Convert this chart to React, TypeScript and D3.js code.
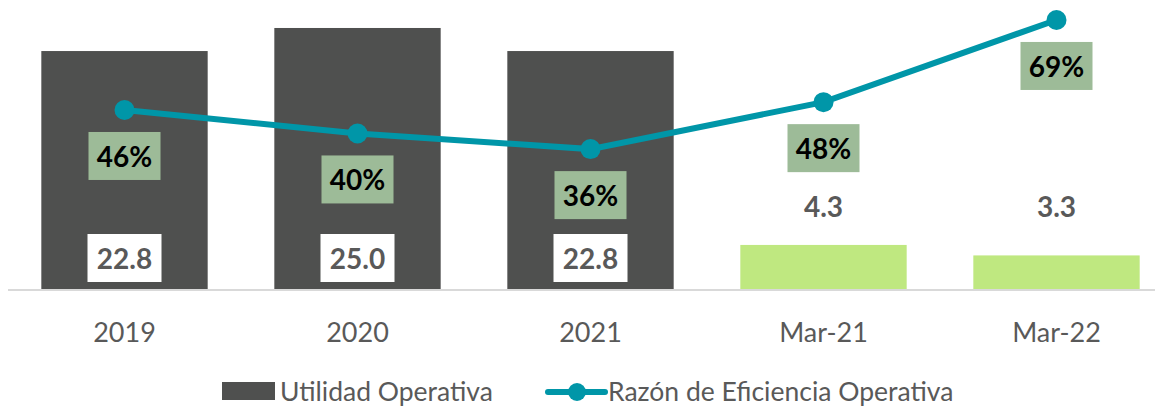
import React from "react";
import * as d3 from "d3";

const categories = ["2019", "2020", "2021", "Mar-21", "Mar-22"];
const utilidad = [22.8, 25.0, 22.8, 4.3, 3.3];
const razon = [46, 40, 36, 48, 69];
const barColors = ["#4f504f", "#4f504f", "#4f504f", "#bfe880", "#bfe880"];
const legendLabels = ["Utilidad Operativa", "Razón de Eficiencia Operativa"];

const W = 1155;
const H = 406;
const FONT = "Lato, 'Open Sans', sans-serif";

export default function App() {
  const baseline = 290;
  const x = d3.scaleBand<string>().domain(categories).range([8, 1173]).padding(0);
  const barW = x.bandwidth() * 0.714;
  const yBar = d3.scaleLinear().domain([0, 27.67]).range([baseline, 0]);
  const yLine = d3.scaleLinear().domain([0, 74.1]).range([baseline, 0]);
  const cx = (c: string) => (x(c) as number) + x.bandwidth() / 2;

  const line = d3
    .line<number>()
    .x((_, i) => cx(categories[i]))
    .y((d) => yLine(d));

  return (
    <svg
      width={W}
      height={H}
      style={{ position: "absolute", left: 0, top: 0, background: "#fff" }}
      fontFamily={FONT}
    >
      {/* bars */}
      {utilidad.map((v, i) => (
        <rect
          key={"b" + i}
          x={cx(categories[i]) - barW / 2}
          y={yBar(v)}
          width={barW}
          height={baseline - yBar(v)}
          fill={barColors[i]}
        />
      ))}
      {/* axis line */}
      <line x1={8} x2={W} y1={baseline} y2={baseline} stroke="#d9d9d9" strokeWidth={2} />
      {/* category labels */}
      {categories.map((c) => (
        <text
          key={"c" + c}
          x={cx(c)}
          y={331}
          textAnchor="middle"
          dominantBaseline="central"
          fontSize={27}
          fill="#595959"
        >
          {c}
        </text>
      ))}
      {/* bar value labels */}
      {utilidad.map((v, i) => {
        const inside = v > 10;
        const xc = cx(categories[i]);
        const yc = inside ? 258 : 206;
        return (
          <g key={"bl" + i}>
            {inside && <rect x={xc - 37} y={yc - 24} width={74} height={48} fill="#fff" />}
            <text
              x={xc}
              y={yc}
              textAnchor="middle"
              dominantBaseline="central"
              fontSize={28}
              fontWeight={700}
              fill="#595959"
            >
              {v.toFixed(1)}
            </text>
          </g>
        );
      })}
      {/* line */}
      <path d={line(razon) || ""} fill="none" stroke="#0096a8" strokeWidth={6} />
      {razon.map((v, i) => (
        <circle key={"p" + i} cx={cx(categories[i])} cy={yLine(v)} r={10} fill="#0096a8" />
      ))}
      {/* percentage labels */}
      {razon.map((v, i) => {
        const xc = cx(categories[i]);
        const yc = yLine(v) + 46;
        return (
          <g key={"pl" + i}>
            <rect x={xc - 36} y={yc - 24} width={72} height={48} fill="#9dbb98" />
            <text
              x={xc}
              y={yc}
              textAnchor="middle"
              dominantBaseline="central"
              fontSize={28}
              fontWeight={700}
              fill="#000"
            >
              {v}%
            </text>
          </g>
        );
      })}
      {/* legend */}
      <rect x={222} y={382} width={53} height={18} fill="#4f504f" />
      <text x={280} y={391} dominantBaseline="central" fontSize={26.5} fill="#595959">
        {legendLabels[0]}
      </text>
      <line x1={548} x2={605} y1={392} y2={392} stroke="#0096a8" strokeWidth={6} strokeLinecap="round" />
      <circle cx={577} cy={392} r={9} fill="#0096a8" />
      <text x={608} y={391} dominantBaseline="central" fontSize={26.5} fill="#595959">
        {legendLabels[1]}
      </text>
    </svg>
  );
}
